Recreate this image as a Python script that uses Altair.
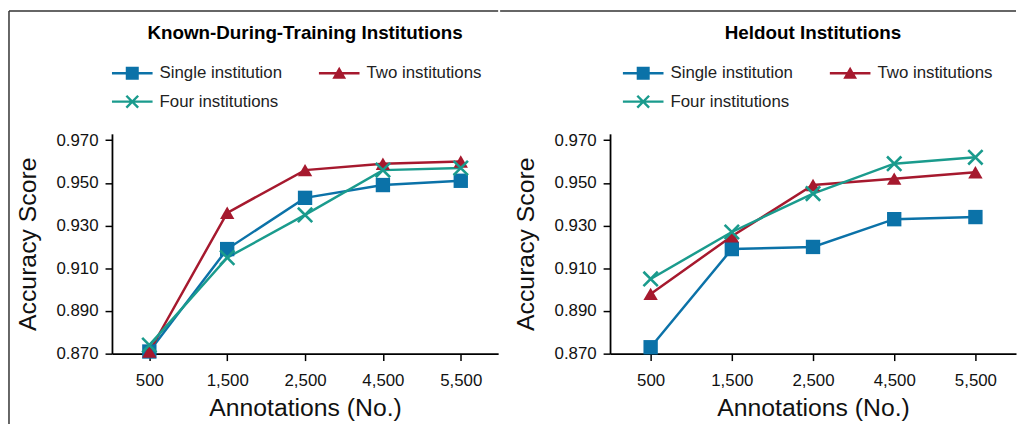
import altair as alt
import pandas as pd

series = ["Single institution", "Two institutions", "Four institutions"]
annotations = ["500", "1,500", "2,500", "4,500", "5,500"]
known_single = [0.871, 0.919, 0.943, 0.949, 0.951]
known_two = [0.871, 0.936, 0.956, 0.959, 0.960]
known_four = [0.874, 0.915, 0.935, 0.956, 0.957]
held_single = [0.873, 0.919, 0.920, 0.933, 0.934]
held_two = [0.898, 0.925, 0.949, 0.952, 0.955]
held_four = [0.905, 0.927, 0.945, 0.959, 0.962]
titles = ["Known-During-Training Institutions", "Heldout Institutions"]
y_ticks = [0.870, 0.890, 0.910, 0.930, 0.950, 0.970]
colors = ["#0B72A8", "#A6192E", "#1A9B8D"]

X_PATH = ("M-0.873,-1.127L1.127,0.873L0.873,1.127L-1.127,-0.873Z"
          "M-0.873,1.127L-1.127,0.873L0.873,-1.127L1.127,-0.873Z")
BAR = "M-1,-0.06H1V0.06H-1Z"
LEG_SQ = BAR + "M-0.32,-0.32H0.32V0.32H-0.32Z"
LEG_TRI = BAR + "M0,-0.32L0.34,0.27H-0.34Z"
LEG_X = BAR + ("M-0.248,-0.332L0.332,0.248L0.248,0.332L-0.332,-0.248Z"
               "M-0.248,0.332L-0.332,0.248L0.248,-0.332L0.332,-0.248Z")

LABEL_FONT = "Liberation Sans"
FRAME = "#333333"


def panel(title, vals, width, pad, frame_x, left_frame, leg_pad, leg_offset):
    df = pd.DataFrame({
        "series": [s for s in series for _ in annotations],
        "ann": annotations * len(series),
        "idx": list(range(len(annotations))) * len(series),
        "acc": vals[0] + vals[1] + vals[2],
    })
    x = alt.X("ann:O", sort=annotations,
              scale=alt.Scale(type="point", padding=pad),
              axis=alt.Axis(labelAngle=0, tickSize=7, labelPadding=12,
                            titlePadding=7, title="Annotations (No.)"))
    y = alt.Y("acc:Q",
              scale=alt.Scale(domain=[0.870, 0.973], nice=False, zero=False),
              axis=alt.Axis(values=y_ticks, format=".3f", tickSize=7,
                            labelPadding=7, titlePadding=16,
                            title="Accuracy Score"))
    color_scale = alt.Scale(domain=series, range=colors)
    base = alt.Chart(df).encode(x=x, y=y)
    lines = base.mark_line(strokeWidth=2.5).encode(
        color=alt.Color("series:N", scale=color_scale, legend=None),
        order="idx:Q",
    )
    points = base.mark_point(filled=True, size=210, opacity=1).encode(
        color=alt.Color("series:N", scale=color_scale, legend=None),
        shape=alt.Shape("series:N",
                        scale=alt.Scale(domain=series,
                                        range=["square", "triangle-up", X_PATH]),
                        legend=None),
    )
    leg = dict(title=None, orient="top", columns=2, symbolSize=1681,
               symbolStrokeWidth=0, labelFontSize=17, labelFont=LABEL_FONT,
               labelColor="#222", labelOffset=7, columnPadding=37,
               rowPadding=-1, offset=leg_offset, padding=leg_pad, labelLimit=0)
    legend_layer = base.mark_point(filled=True, opacity=1).encode(
        color=alt.Color("series:N", scale=color_scale, legend=alt.Legend(**leg)),
        shape=alt.Shape("series:N",
                        scale=alt.Scale(domain=series,
                                        range=[LEG_SQ, LEG_TRI, LEG_X]),
                        legend=alt.Legend(**leg)),
    ).transform_filter("false")
    one = pd.DataFrame({"t": [title]})
    title_mark = alt.Chart(one).mark_text(
        font=LABEL_FONT, fontSize=19, fontWeight="bold", color="#000",
        align="center", baseline="middle",
    ).encode(x=alt.value(width / 2), y=alt.value(-102), text="t:N")
    top_rule = alt.Chart(one).mark_rule(color=FRAME, strokeWidth=1.5).encode(
        x=alt.value(frame_x), x2=alt.value(width), y=alt.value(-124))
    layers = [top_rule]
    if left_frame:
        layers.append(alt.Chart(one).mark_rule(color=FRAME, strokeWidth=1.5).encode(
            x=alt.value(frame_x), y=alt.value(-124), y2=alt.value(293)))
    layers += [title_mark, lines, points, legend_layer]
    return alt.layer(*layers).resolve_scale(
        color="independent", shape="independent"
    ).properties(width=width, height=222)


left = panel(titles[0], [known_single, known_two, known_four], 390, 0.48, -104,
             True, 0, 24)
right = panel(titles[1], [held_single, held_two, held_four], 410, 0.5, -111,
              False, 13, 11)

chart = alt.hconcat(left, right, spacing=0).resolve_scale(
    color="independent", shape="independent"
).properties(
    padding={"left": 0, "top": 0, "right": 0, "bottom": 0}
).configure_view(stroke=None).configure_axis(
    grid=False, domainColor="#000", tickColor="#000", domainWidth=1.8,
    tickWidth=1.5, labelFont=LABEL_FONT, labelFontSize=17, labelColor="#111",
    titleFont=LABEL_FONT, titleFontSize=25, titleFontWeight="normal",
    titleColor="#111",
)

chart.save("out.html", embed_options={"renderer": "svg", "actions": False})
